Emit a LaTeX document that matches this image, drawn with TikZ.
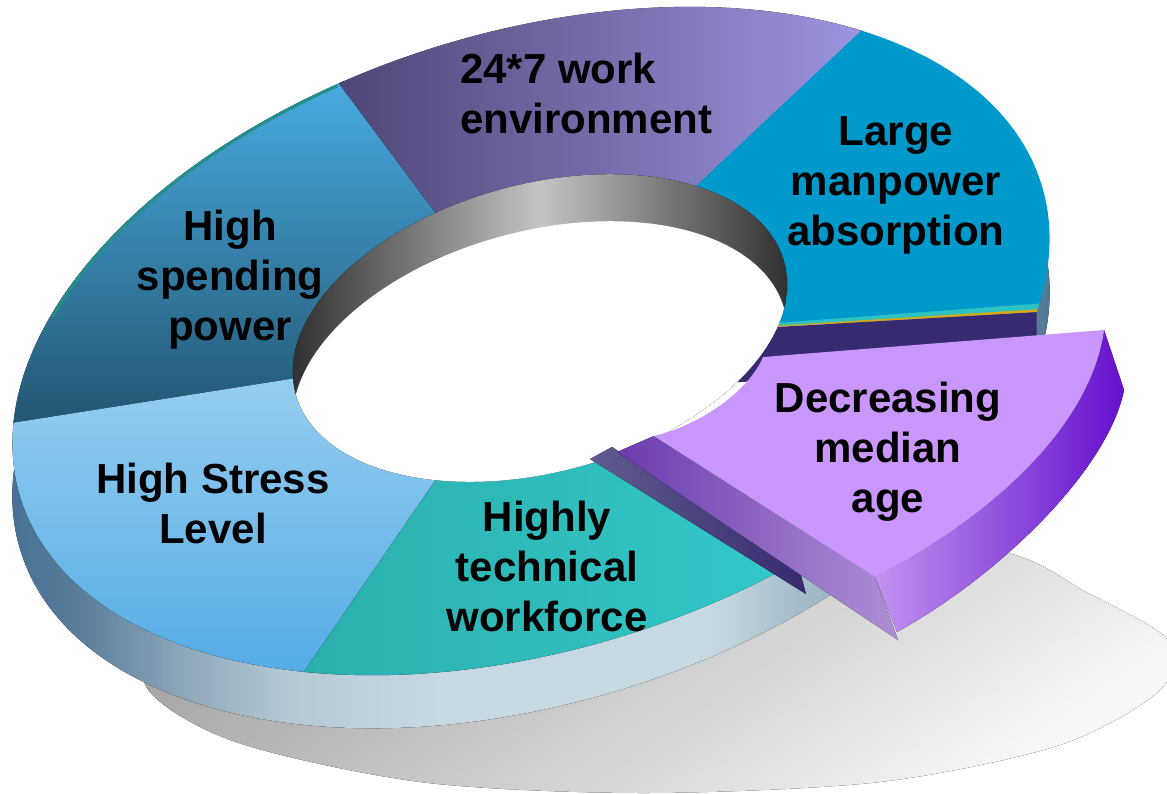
\documentclass[tikz,border=0pt]{standalone}
\usepackage{fontspec}
\setmainfont{Liberation Sans}

\definecolor{spendTop}{HTML}{48AAE0}
\definecolor{spendBot}{HTML}{235672}
\definecolor{stressTop}{HTML}{9DD1F2}
\definecolor{stressBot}{HTML}{55ACE5}
\definecolor{techL}{HTML}{2AAFAD}
\definecolor{techR}{HTML}{34C9CA}
\definecolor{workL}{HTML}{4F4777}
\definecolor{workR}{HTML}{9D94E0}
\definecolor{manBlue}{HTML}{0099CC}
\definecolor{ageTop}{HTML}{C997FB}
\definecolor{ageSideL}{HTML}{C293F0}
\definecolor{ageSideR}{HTML}{6410CC}
\definecolor{ageCutL}{HTML}{6A3BAE}
\definecolor{ageCutR}{HTML}{AE90D6}
\definecolor{endNavy}{HTML}{372A70}
\definecolor{stripGrey}{HTML}{605C8E}
\definecolor{stripTeal}{HTML}{2EC2C2}
\definecolor{stripGold}{HTML}{D9A917}
\definecolor{rimTeal}{HTML}{238E8A}
\definecolor{wallDark}{HTML}{262626}
\definecolor{wallLight}{HTML}{C4C4C4}
\definecolor{shadowDark}{HTML}{A2A2A2}
\definecolor{shadowLight}{HTML}{F7F7F7}
\definecolor{sideA}{HTML}{3C6A8E}
\definecolor{sideB}{HTML}{5A7E9C}
\definecolor{sideC}{HTML}{8AA3B6}
\definecolor{sideD}{HTML}{B4C8D4}
\definecolor{sideE}{HTML}{C6D8E2}
\definecolor{sideF}{HTML}{A6BCCA}
\definecolor{sideG}{HTML}{7F9DB2}
\definecolor{sideH}{HTML}{3E6D8D}

\pgfdeclarehorizontalshading{sidegrad}{100bp}{color(0bp)=(sideA); color(25bp)=(sideA);
  color(30bp)=(sideB); color(34bp)=(sideC); color(39bp)=(sideD); color(46bp)=(sideE);
  color(58bp)=(sideE); color(62bp)=(sideF); color(68bp)=(sideG); color(75bp)=(sideH);
  color(100bp)=(sideH)}

\begin{document}
\begin{tikzpicture}[x=0.75pt, y=-0.75pt,
    ring/.style={shift={(531,341)}, rotate=17, x=400.5pt, y=231.75pt},
    ringbase/.style={shift={(531,394)}, rotate=17, x=400.5pt, y=231.75pt},
    holetop/.style={shift={(540,328)}, rotate=15, x=189.75pt, y=108pt},
    holebase/.style={shift={(540,375)}, rotate=15, x=189.75pt, y=108pt},
    caption/.style={font=\fontsize{31.5}{37.5}\selectfont\bfseries, align=center, inner sep=0pt}]
  \useasboundingbox (0,0) rectangle (1167,793);

  % shadow on the ground
  \fill[top color=shadowDark, bottom color=shadowLight, shading angle=35]
    plot[smooth cycle] coordinates {(144,680) (230,740) (420,782) (644,793) (880,782)
      (1060,745) (1160,690) (1168,640) (1086,592) (1005,552) (800,520) (450,540) (220,610)};

  % outer side of the ring
  \fill[ringbase, shading=sidegrad] (0,0) circle (1);

  % top faces of the segments
  \begin{scope}[ring]
    \fill[top color=spendTop, bottom color=spendBot] (0,0) -- (101.2:1) arc[start angle=101.2, end angle=166.6, radius=1] -- cycle;
    \draw[rimTeal, line width=2.2pt] (102:0.995) arc[start angle=102, end angle=148, radius=0.995];
    \draw[rimTeal, line width=1.6pt] (101.3:0.45) -- (101.3:1);
    \fill[top color=stressTop, bottom color=stressBot] (0,0) -- (166.3:1) arc[start angle=166.3, end angle=234.3, radius=1] -- cycle;
    \fill[left color=techL, right color=techR] (0,0) -- (234:1) arc[start angle=234, end angle=291, radius=1] -- cycle;
    \fill[left color=workL, right color=workR] (0,0) -- (40.1:1) arc[start angle=40.1, end angle=101.7, radius=1] -- cycle;
    \fill[stripGold] (0,0) -- (-22.9:1) arc[start angle=-22.9, end angle=-22.2, radius=1] -- cycle;
    \fill[stripTeal] (0,0) -- (-22.4:1) arc[start angle=-22.4, end angle=-21.2, radius=1] -- cycle;
    \fill[manBlue] (0,0) -- (-21.4:1) arc[start angle=-21.4, end angle=40.4, radius=1] -- cycle;
    % gap left by the pulled-out slice
    \fill[white] (0,0) -- (-69:0.6) arc[start angle=-69, end angle=-22.9, radius=0.6] -- cycle;
    \fill[endNavy] (-22.9:0.4) -- (-22.9:1) -- ([shift={(-0.029,-0.164)}]-22.9:1)
      -- ([shift={(-0.029,-0.164)}]-22.9:0.4) -- cycle;
  \end{scope}

  % hole with its inner wall
  \begin{scope}
    \clip[holetop] (0,0) circle (1);
    \fill[holetop, left color=wallDark, right color=wallDark, middle color=wallLight] (0,0) circle (1);
    \fill[holebase, white] (0,0) circle (1);
  \end{scope}

  % pulled-out slice
  \fill[left color=stripGrey, right color=endNavy] (590,459) -- (612,447) -- (800,572) -- (806,594) -- cycle;
  \fill[left color=ageCutL, right color=ageCutR] (617,452) -- (654,436) -- (875,577) -- (898,640) -- cycle;
  \fill[left color=ageSideL, right color=ageSideR] (875,577) .. controls (985,520) and (1090,430) .. (1104,330)
    -- (1124,390) .. controls (1108,470) and (1000,575) .. (897,632) -- cycle;
  \fill[ageTop] (763,357) -- (1104,330) .. controls (1090,430) and (985,520) .. (875,577)
    -- (654,436) .. controls (700,425) and (748,392) .. (763,357) -- cycle;

  % labels
  \node[caption, align=left, anchor=west] (work) at (460,93) {24*7 work\\environment};
  \node[caption] (manpower) at (896,185) {Large\\manpower\\absorption};
  \node[caption] (spending) at (230,280) {High\\spending\\power};
  \node[caption] (stress) at (213,503) {High Stress\\Level};
  \node[caption] (technical) at (547,566) {Highly\\technical\\workforce};
  \node[caption] (age) at (888,452) {Decreasing\\median\\age};
\end{tikzpicture}
\end{document}
